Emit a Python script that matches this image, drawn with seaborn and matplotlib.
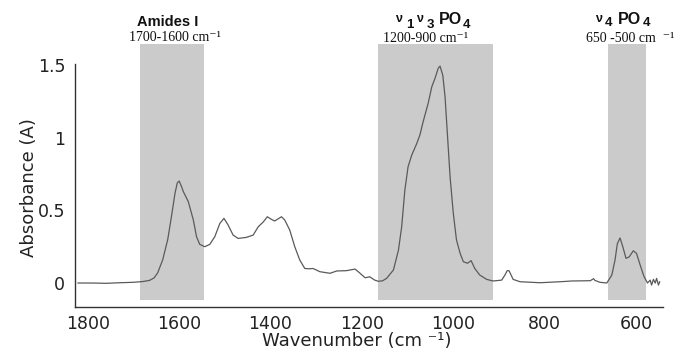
import matplotlib
matplotlib.use("Agg")
import matplotlib.pyplot as plt
import seaborn as sns
import pandas as pd
from matplotlib.ticker import FixedLocator, FuncFormatter

wavenumber = [1822, 1790, 1760, 1730, 1700, 1680, 1665, 1655, 1647, 1636, 1625, 1617, 1609,
              1604, 1600, 1595, 1591, 1580, 1569, 1562, 1555, 1544, 1533, 1522, 1511, 1502,
              1493, 1482, 1471, 1453, 1438, 1427, 1416, 1407, 1398, 1391, 1376, 1369, 1358,
              1347, 1336, 1325, 1315, 1307, 1292, 1270, 1255, 1234, 1215, 1204, 1193, 1183,
              1172, 1164, 1155, 1146, 1131, 1120, 1113, 1106, 1099, 1091, 1080, 1073, 1066,
              1055, 1047, 1040, 1033, 1029, 1023, 1018, 1013, 1007, 1000, 993, 985, 978, 969,
              961, 953, 942, 927, 913, 894, 887, 882, 878, 869, 854, 810, 760, 741, 700, 693,
              690, 679, 664, 653, 646, 641, 635, 629, 622, 615, 606, 599, 591, 583, 575, 569,
              566, 562, 558, 555, 551, 548]
absorbance = [0.000, 0.000, -0.002, 0.002, 0.005, 0.010, 0.018, 0.035, 0.07, 0.16, 0.30, 0.456,
              0.62, 0.69, 0.702, 0.665, 0.63, 0.56, 0.434, 0.319, 0.266, 0.25, 0.266, 0.319,
              0.41, 0.445, 0.40, 0.33, 0.307, 0.314, 0.33, 0.387, 0.42, 0.456, 0.438, 0.427,
              0.456, 0.434, 0.365, 0.25, 0.158, 0.10, 0.098, 0.10, 0.078, 0.067, 0.083, 0.085,
              0.096, 0.067, 0.036, 0.043, 0.02, 0.012, 0.015, 0.032, 0.09, 0.227, 0.387, 0.64,
              0.80, 0.88, 0.96, 1.02, 1.11, 1.237, 1.351, 1.409, 1.478, 1.493, 1.43, 1.28, 1.03,
              0.73, 0.48, 0.296, 0.204, 0.147, 0.136, 0.154, 0.10, 0.055, 0.025, 0.014, 0.02,
              0.055, 0.085, 0.085, 0.025, 0.009, 0.002, 0.010, 0.014, 0.016, 0.03, 0.018, 0.005,
              0.0, 0.055, 0.158, 0.27, 0.31, 0.25, 0.17, 0.18, 0.222, 0.204, 0.124, 0.048, 0.0,
              0.02, -0.014, 0.025, 0.0, 0.032, -0.014, 0.01]

band_ranges = [(1686, 1546), (1165, 913), (661, 578)]
x_ticks = [1800, 1600, 1400, 1200, 1000, 800, 600]
y_ticks = [0, 0.5, 1, 1.5]

sns.set_style("white")
plt.rcParams['font.family'] = ['DejaVu Sans']

fig = plt.figure(figsize=(6.78, 3.51), dpi=100)
ax = fig.add_axes([75/678, 1-307/351, 588/678, 263/351])

for lo, hi in band_ranges:
    ax.axvspan(hi, lo, ymin=7/263, ymax=1.0, color='#cbcbcb', lw=0, zorder=0)

df = pd.DataFrame({"Wavenumber": wavenumber, "Absorbance": absorbance})
sns.lineplot(data=df, x="Wavenumber", y="Absorbance", ax=ax, color='#5a5a5a',
             lw=0.9, sort=False, estimator=None, zorder=3)

ax.set_xlim(1828, 541)
ax.set_ylim(-0.165, 1.645)
ax.xaxis.set_major_locator(FixedLocator(x_ticks))
ax.yaxis.set_major_locator(FixedLocator(y_ticks))
ax.yaxis.set_major_formatter(FuncFormatter(lambda v, p: f"{v:g}"))

for s in ['top', 'right']:
    ax.spines[s].set_visible(False)
for s in ['left', 'bottom']:
    ax.spines[s].set_color('#333333')
    ax.spines[s].set_linewidth(1.0)
ax.spines['left'].set_bounds(-0.165, 1.51)

ax.tick_params(axis='both', which='major', length=3, width=0.8, color='#333333',
               labelsize=12.5, labelcolor='#222222', direction='out')
ax.tick_params(axis='x', pad=3)
ax.tick_params(axis='y', pad=4)

ax.set_xlabel("Wavenumber (cm ⁻¹)", fontsize=13, color='#222222')
ax.set_ylabel("Absorbance (A)", fontsize=13, color='#222222')
ax.xaxis.set_label_coords((357-75)/588, (307-332)/263)
ax.yaxis.set_label_coords((38-75)/588, (307-188)/263)

sans = ['Liberation Sans', 'DejaVu Sans']
serif = ['Liberation Serif', 'DejaVu Serif']
def ft(x, y, s, ha='center', **kw):
    fig.text(x/678, 1-y/351, s, ha=ha, va='center', color='#111111', **kw)

ft(168, 22, "Amides I", fontsize=10.5, fontweight='bold', family=sans)
ft(175, 37.5, "1700-1600 cm⁻¹", fontsize=10, family=serif)

# ν1 ν3 PO4
ft(395, 19.5, "ν", ha='left', fontsize=9, fontweight='bold', family=sans)
ft(406, 24.5, "1", ha='left', fontsize=9.5, fontweight='bold', family=sans)
ft(416, 19.5, "ν", ha='left', fontsize=9, fontweight='bold', family=sans)
ft(427, 24.5, "3", ha='left', fontsize=9.5, fontweight='bold', family=sans)
ft(439, 19.5, "PO", ha='left', fontsize=11.5, fontweight='bold', family=sans)
ft(463, 24.5, "4", ha='left', fontsize=9.5, fontweight='bold', family=sans)
ft(426, 39, "1200-900 cm⁻¹", fontsize=10, family=serif)

# ν4 PO4
ft(595, 19, "ν", ha='left', fontsize=9, fontweight='bold', family=sans)
ft(605, 23.5, "4", ha='left', fontsize=9.5, fontweight='bold', family=sans)
ft(618, 19, "PO", ha='left', fontsize=11.5, fontweight='bold', family=sans)
ft(643, 23.5, "4", ha='left', fontsize=9.5, fontweight='bold', family=sans)
ft(630, 38, "650 -500 cm  ⁻¹", fontsize=10, family=serif)

fig.savefig("out.png", dpi=100)
